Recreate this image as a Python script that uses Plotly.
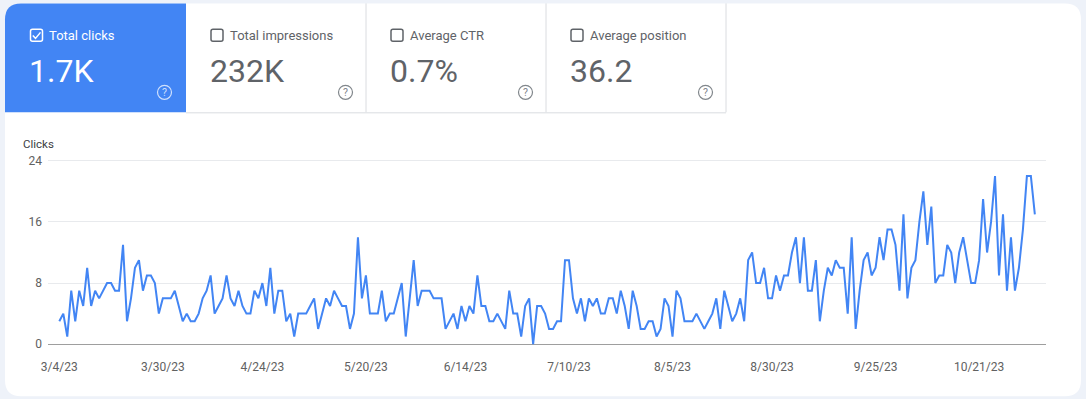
import plotly.graph_objects as go
import pandas as pd

# ---------------- data ----------------
start_date = "2023-03-04"
clicks = [
    3, 4, 1, 7, 3, 7, 5, 10, 5, 7,
    6, 7, 8, 8, 7, 7, 13, 3, 6, 10,
    11, 7, 9, 9, 8, 4, 6, 6, 6, 7,
    5, 3, 4, 3, 3, 4, 6, 7, 9, 4,
    5, 6, 9, 6, 5, 7, 5, 4, 4, 7,
    6, 8, 5, 10, 4, 7, 7, 3, 4, 1,
    4, 4, 4, 5, 6, 2, 4, 6, 5, 7,
    6, 5, 5, 2, 4, 14, 6, 9, 4, 4,
    4, 7, 3, 4, 4, 6, 8, 1, 6, 11,
    5, 7, 7, 7, 6, 6, 6, 2, 3, 4,
    2, 5, 3, 5, 4, 9, 5, 5, 3, 3,
    4, 3, 2, 7, 4, 4, 1, 5, 6, 0,
    5, 5, 4, 2, 2, 3, 3, 11, 11, 6,
    4, 6, 3, 6, 5, 6, 4, 4, 6, 6,
    4, 7, 5, 2, 7, 5, 2, 2, 3, 3,
    1, 2, 6, 5, 1, 7, 6, 3, 3, 3,
    4, 3, 2, 3, 4, 6, 2, 7, 5, 3,
    4, 6, 3, 11, 12, 8, 8, 10, 6, 6,
    9, 7, 9, 9, 12, 14, 8, 14, 7, 7,
    11, 3, 7, 10, 9, 11, 10, 10, 4, 14,
    2, 7, 11, 12, 9, 10, 14, 11, 15, 15,
    13, 7, 17, 6, 10, 11, 16, 20, 13, 18,
    8, 9, 9, 13, 12, 8, 12, 14, 11, 8,
    8, 11, 19, 12, 16, 22, 9, 17, 7, 14,
    7, 10, 15, 22, 22, 17,
]
tick_dates = ["2023-03-04", "2023-03-30", "2023-04-24", "2023-05-20", "2023-06-14",
              "2023-07-10", "2023-08-05", "2023-08-30", "2023-09-25", "2023-10-21"]
tick_labels = ["3/4/23", "3/30/23", "4/24/23", "5/20/23", "6/14/23",
               "7/10/23", "8/5/23", "8/30/23", "9/25/23", "10/21/23"]
y_ticks = [0, 8, 16, 24]
metric_labels = ["Total clicks", "Total impressions", "Average CTR", "Average position"]
metric_values = ["1.7K", "232K", "0.7%", "36.2"]
y_title = "Clicks"

dates = pd.date_range(start_date, periods=len(clicks), freq="D")

# ---------------- layout geometry (pixels) ----------------
W, H = 1086, 399
ML, MR, MT, MB = 48, 40, 156.7, 51.2
PW, PH = W - ML - MR, H - MT - MB


def px(x):
    return (x - ML) / PW


def py(y):
    return (H - MB - y) / PH


def rrect(x0, y0, x1, y1, rtl=0, rtr=0, rbr=0, rbl=0):
    pts = []

    def P(cmd, *xy):
        s = cmd
        for i in range(0, len(xy), 2):
            s += f" {px(xy[i]):.6f},{py(xy[i + 1]):.6f}"
        pts.append(s)

    P("M", x0 + rtl, y0)
    P("L", x1 - rtr, y0)
    if rtr:
        P("Q", x1, y0, x1, y0 + rtr)
    P("L", x1, y1 - rbr)
    if rbr:
        P("Q", x1, y1, x1 - rbr, y1)
    P("L", x0 + rbl, y1)
    if rbl:
        P("Q", x0, y1, x0, y1 - rbl)
    P("L", x0, y0 + rtl)
    if rtl:
        P("Q", x0, y0, x0 + rtl, y0)
    return " ".join(pts) + " Z"


def pline(points):
    s = ""
    for k, (x, y) in enumerate(points):
        s += ("M" if k == 0 else " L") + f" {px(x):.6f},{py(y):.6f}"
    return s


BLUE = "#4285f4"
GRAY_TXT = "#5f6368"
BORDER = "#dadce0"
FONT = "Roboto, Arial, sans-serif"

fig = go.Figure()
fig.add_trace(go.Scatter(
    x=dates, y=clicks, mode="lines",
    line=dict(color=BLUE, width=2),
    hoverinfo="skip", showlegend=False,
))

shapes = []
annotations = []

# card
shapes.append(dict(type="path", xref="paper", yref="paper", layer="below",
                   path=rrect(5, 3, 1081, 396, 16, 16, 16, 16),
                   fillcolor="white", line=dict(width=0)))
# blue tile
shapes.append(dict(type="path", xref="paper", yref="paper", layer="below",
                   path=rrect(5, 3, 186, 112, rtl=16),
                   fillcolor=BLUE, line=dict(width=0)))
# white tile borders
for xb in [366, 546, 726]:
    shapes.append(dict(type="line", xref="paper", yref="paper", layer="below",
                       x0=px(xb), x1=px(xb), y0=py(3), y1=py(112),
                       line=dict(color=BORDER, width=1)))
shapes.append(dict(type="line", xref="paper", yref="paper", layer="below",
                   x0=px(186), x1=px(726), y0=py(112.5), y1=py(112.5),
                   line=dict(color=BORDER, width=1)))

tile_x = [5, 186, 366, 546]
for k, (lab, val) in enumerate(zip(metric_labels, metric_values)):
    tx = tile_x[k]
    on = k == 0
    col = "white" if on else GRAY_TXT
    # checkbox
    bx = tx + 25.5 if on else tx + 25
    shapes.append(dict(type="path", xref="paper", yref="paper",
                       path=rrect(bx, 29, bx + 12, 41, 2, 2, 2, 2),
                       fillcolor="rgba(0,0,0,0)",
                       line=dict(color=col, width=1.5)))
    if on:
        shapes.append(dict(type="path", xref="paper", yref="paper",
                           path=pline([(bx + 2.3, 35.2), (bx + 5, 38), (bx + 10, 32)]),
                           line=dict(color="white", width=1.5)))
    annotations.append(dict(xref="paper", yref="paper", x=px(tx + 41.5), y=py(35),
                            xanchor="left", yanchor="middle", showarrow=False,
                            text=lab, font=dict(family=FONT, size=13, color=col)))
    annotations.append(dict(xref="paper", yref="paper", x=px(tx + 22), y=py(71),
                            xanchor="left", yanchor="middle", showarrow=False,
                            text=val, font=dict(family=FONT, size=32, color=col)))
    # help icon
    icol = "rgba(255,255,255,0.75)" if on else "#80868b"
    cx, cy, r = tx + 159.5, 92, 7
    shapes.append(dict(type="circle", xref="paper", yref="paper",
                       x0=px(cx - r), x1=px(cx + r), y0=py(cy + r), y1=py(cy - r),
                       line=dict(color=icol, width=1.2)))
    annotations.append(dict(xref="paper", yref="paper", x=px(cx), y=py(cy + 0.5),
                            xanchor="center", yanchor="middle", showarrow=False,
                            text="?", font=dict(family=FONT, size=10.5, color=icol)))

annotations.append(dict(xref="paper", yref="paper", x=px(20.5), y=py(144),
                        xanchor="left", yanchor="middle", showarrow=False,
                        text=y_title, font=dict(family=FONT, size=11.5, color="#3c4043")))

x_left = (pd.Timestamp(start_date) - pd.Timedelta(days=2.84)).strftime("%Y-%m-%d %H:%M:%S")
x_right = (pd.Timestamp(start_date) + pd.Timedelta(days=247.8)).strftime("%Y-%m-%d %H:%M:%S")

fig.update_layout(
    width=W, height=H,
    margin=dict(l=ML, r=MR, t=MT, b=MB, pad=0),
    paper_bgcolor="#eef2f9",
    plot_bgcolor="rgba(0,0,0,0)",
    font=dict(family=FONT, color="#757575"),
    shapes=shapes, annotations=annotations,
    showlegend=False,
    xaxis=dict(type="date", range=[x_left, x_right], tickvals=tick_dates,
               ticktext=tick_labels, showgrid=False, zeroline=False, showline=False,
               ticks="", tickfont=dict(family=FONT, size=12, color="#616161"),
               ticklabelstandoff=10, fixedrange=True),
    yaxis=dict(range=[-0.5, 24.5], tickvals=y_ticks, showgrid=True,
               gridcolor="#e8eaed", gridwidth=1, zeroline=True,
               zerolinecolor="#9e9e9e", zerolinewidth=1, showline=False,
               ticks="", tickfont=dict(family=FONT, size=12, color="#616161"),
               ticklabelstandoff=5, fixedrange=True),
)

fig.write_html(
    "out.html",
    config={"displayModeBar": False},
    post_script="document.body.style.margin='0';document.body.style.overflow='hidden';",
)
